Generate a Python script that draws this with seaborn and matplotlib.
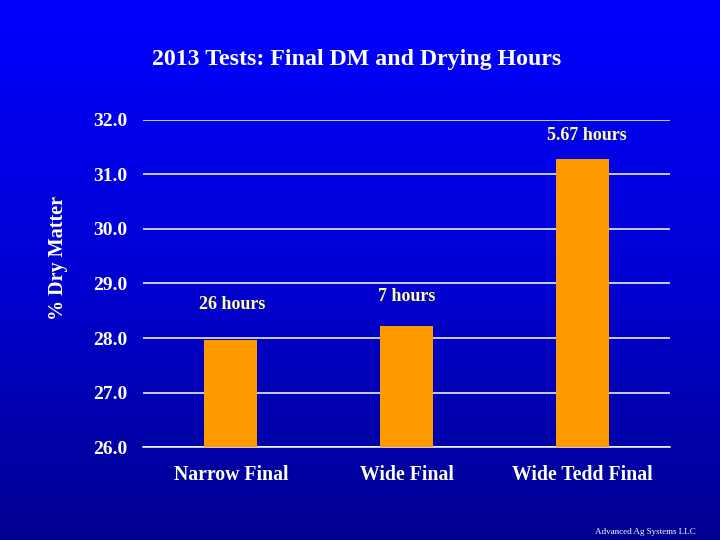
import numpy as np
import pandas as pd
import seaborn as sns
import matplotlib.pyplot as plt
from matplotlib.colors import LinearSegmentedColormap

# chart data
categories = ["Narrow Final", "Wide Final", "Wide Tedd Final"]
dry_matter = [27.96, 28.22, 31.28]
hour_labels = ["26 hours", "7 hours", "5.67 hours"]

sns.set_theme(style="white")
plt.rcParams['font.family'] = ['Liberation Serif', 'DejaVu Serif']

fig = plt.figure(figsize=(7.2, 5.4), dpi=100)

# blue gradient background
bg = fig.add_axes([0, 0, 1, 1], zorder=-10)
grad = np.linspace(0, 1, 256).reshape(-1, 1)
bg_cmap = LinearSegmentedColormap.from_list("bg", ["#0000FF", "#0000D4", "#000090"])
bg.imshow(grad, aspect='auto', cmap=bg_cmap, extent=[0, 1, 0, 1])
bg.set_axis_off()

ax = fig.add_axes([0.1986, 0.1722, 0.732, 0.6056])
ax.set_facecolor("none")

df = pd.DataFrame({"Category": categories, "DM": dry_matter})
sns.barplot(data=df, x="Category", y="DM", color="#FF9900", width=0.3,
            saturation=1, linewidth=0, edgecolor="none", ax=ax, zorder=3)

ax.set_ylim(26, 32)
ax.set_xlim(-0.5, 2.5)
ax.set_yticks(np.arange(26, 32.1, 1.0))
ax.set_yticklabels([f"{v:.1f}" for v in np.arange(26, 32.1, 1.0)])
ax.yaxis.grid(True, color="white", linewidth=1.1, zorder=0)
ax.xaxis.grid(False)
for s in ["top", "right", "left"]:
    ax.spines[s].set_visible(False)
ax.spines["bottom"].set_color("white")
ax.spines["bottom"].set_linewidth(1.1)
ax.spines["bottom"].set_zorder(0)

ax.tick_params(axis='y', length=0, pad=11.5, labelsize=14, labelcolor="white")
ax.tick_params(axis='x', length=0, pad=13, labelsize=14.2, labelcolor="white")
for t in ax.get_yticklabels() + ax.get_xticklabels():
    t.set_fontweight("bold")
ax.set_xlabel("")
ax.set_ylabel("")

# hours annotations above bars
offsets = [(1, 36), (0, 30), (5, 24)]
for i, (v, lab) in enumerate(zip(dry_matter, hour_labels)):
    ax.annotate(lab, xy=(i, v), xytext=offsets[i], textcoords="offset pixels",
                ha="center", va="center", color="#FFFF99", fontsize=13,
                fontweight="bold")

fig.text(357 / 720, 1 - 60 / 540, "2013 Tests: Final DM and Drying Hours",
         ha="center", va="center", color="white", fontsize=17.2, fontweight="bold")
fig.text(58 / 720, 1 - 258 / 540, "% Dry Matter", rotation=90, ha="center",
         va="center", color="white", fontsize=14.5, fontweight="bold")
fig.text(645 / 720, 1 - 532 / 540, "Advanced Ag Systems LLC", ha="center",
         va="center", color="white", fontsize=6.5)

plt.savefig("out.png", dpi=100)
plt.close()
